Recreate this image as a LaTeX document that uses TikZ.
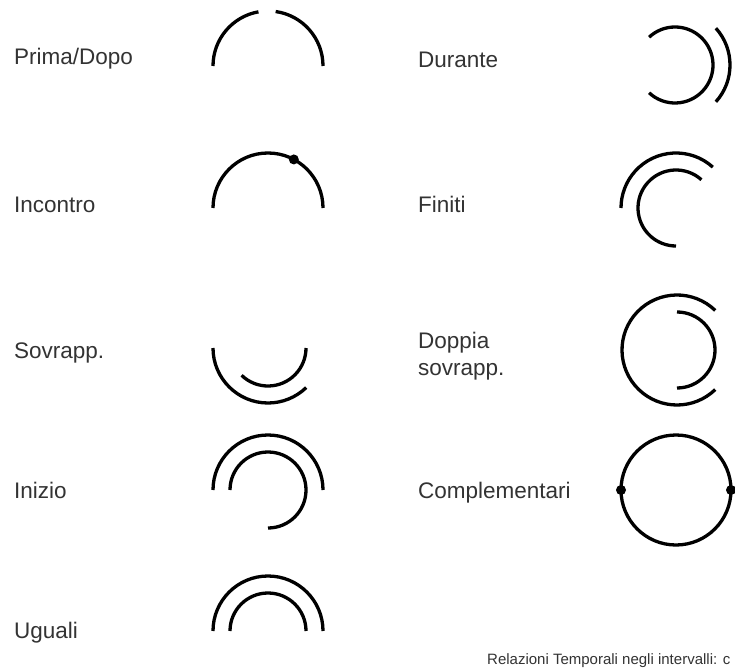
\documentclass[tikz,border=0pt]{standalone}
\usepackage{fontspec}
\setmainfont{Liberation Sans}
\usetikzlibrary{calc}
\begin{document}
\begin{tikzpicture}[x=1pt,y=1pt,
  arcline/.style={line width=3.3pt,black},
  lbl/.style={anchor=base west,inner sep=0pt,text=black!80,font=\fontsize{22.5}{27}\selectfont},
  caption/.style={anchor=base west,inner sep=0pt,text=black!80,font=\fontsize{15}{17}\selectfont},
  dotmark/.style={circle,fill=black,inner sep=0pt,minimum size=10pt}]
\clip (0,0) rectangle (735,670);
\fill[white] (0,0) rectangle (735,670);
% labels
\node[lbl] (l1) at (14,605) {Prima/Dopo};
\node[lbl] (l2) at (14,457) {Incontro};
\node[lbl] (l3) at (14,312) {Sovrapp.};
\node[lbl] (l4) at (14,172) {Inizio};
\node[lbl] (l5) at (14,32) {Uguali};
\node[lbl] (r1) at (418,602) {Durante};
\node[lbl] (r2) at (418,457) {Finiti};
\node[lbl] (r3) at (418,322) {Doppia};
\node[lbl] (r3b) at (418,295) {sovrapp.};
\node[lbl] (r4) at (418,172) {Complementari};
\node[caption] (cap) at (487,6) {Relazioni Temporali negli intervalli: c};
% centres
\coordinate (c1) at (268,604);
\coordinate (c2) at (268,462);
\coordinate (c3) at (268,322);
\coordinate (c4) at (268,180);
\coordinate (c5) at (268,39);
\coordinate (d1) at (675,605);
\coordinate (d2) at (676,462);
\coordinate (d3) at (677,320);
\coordinate (d4) at (676,180);
% Prima/Dopo
\draw[arcline] (c1) ++(180:55) arc[start angle=180,end angle=100,radius=55];
\draw[arcline] (c1) ++(82:55) arc[start angle=82,end angle=0,radius=55];
% Incontro
\draw[arcline] (c2) ++(0:55) arc[start angle=0,end angle=180,radius=55];
\node[dotmark] (m2) at ($(c2)+(62:55)$) {};
% Sovrapp.
\draw[arcline] (c3) ++(180:55) arc[start angle=180,end angle=314,radius=55];
\draw[arcline] (c3) ++(226:38) arc[start angle=226,end angle=360,radius=38];
% Inizio
\draw[arcline] (c4) ++(0:55) arc[start angle=0,end angle=180,radius=55];
\draw[arcline] (c4) ++(180:38) arc[start angle=180,end angle=-90,radius=38];
% Uguali
\draw[arcline] (c5) ++(0:55) arc[start angle=0,end angle=180,radius=55];
\draw[arcline] (c5) ++(0:38) arc[start angle=0,end angle=180,radius=38];
% Durante
\draw[arcline] (d1) ++(-133:38) arc[start angle=-133,end angle=133,radius=38];
\draw[arcline] (d1) ++(-42:55) arc[start angle=-42,end angle=42,radius=55];
% Finiti
\draw[arcline] (d2) ++(48:55) arc[start angle=48,end angle=180,radius=55];
\draw[arcline] (d2) ++(48:38) arc[start angle=48,end angle=270,radius=38];
% Doppia sovrapp.
\draw[arcline] (d3) ++(46:55) arc[start angle=46,end angle=314,radius=55];
\draw[arcline] (d3) ++(-90:38) arc[start angle=-90,end angle=90,radius=38];
% Complementari
\draw[arcline] (d4) circle[radius=55];
\node[dotmark] (m4a) at ($(d4)+(180:55)$) {};
\node[dotmark] (m4b) at ($(d4)+(0:55)$) {};
\end{tikzpicture}
\end{document}
